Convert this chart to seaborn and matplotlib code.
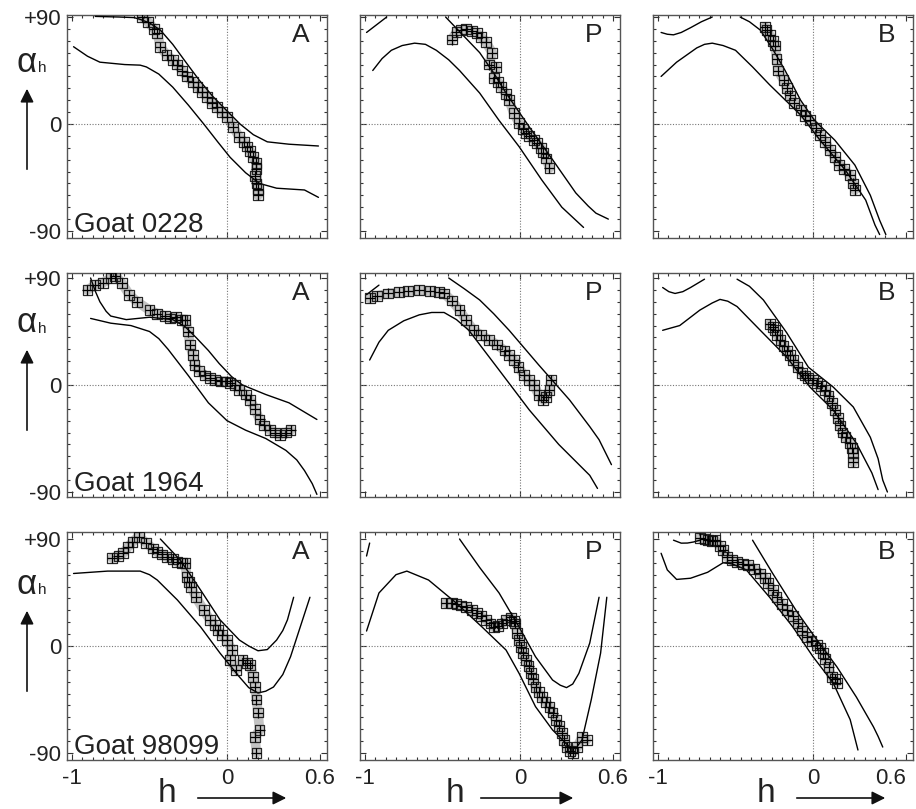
import matplotlib
matplotlib.use("Agg")
import matplotlib.pyplot as plt
from matplotlib.ticker import MultipleLocator, FixedLocator
from matplotlib.patches import FancyArrowPatch
import seaborn as sns
import pandas as pd

sns.set_style("white")
plt.rcParams['font.family'] = ['Liberation Sans', 'DejaVu Sans']

# ---------------- data (h, alpha_h in degrees) ----------------
# Goat 0228
g0228_A_up_x = [-0.85, -0.7, -0.6, -0.56, -0.5, -0.43, -0.35, -0.26, -0.18, -0.09, 0.0, 0.084, 0.17, 0.26, 0.4, 0.59]
g0228_A_up_y = [90.5, 90, 89.5, 88, 85, 79, 67, 51, 37, 23, 11, 0, -9, -15, -17, -18.5]
g0228_A_lo_x = [-0.99, -0.9, -0.82, -0.66, -0.56, -0.52, -0.44, -0.35, -0.25, -0.15, -0.06, 0.02, 0.12, 0.21, 0.32, 0.50, 0.59]
g0228_A_lo_y = [65, 57, 52, 50, 49.5, 48, 42, 31, 16, 0, -15, -28, -41, -50, -54, -55.5, -61.7]
g0228_A_dx = [-0.55, -0.51, -0.47, -0.45, -0.43, -0.39, -0.35, -0.32, -0.29, -0.26, -0.22, -0.19, -0.16,
              -0.13, -0.1, -0.065, -0.03, 0, 0.04, 0.08, 0.11, 0.13, 0.15, 0.17, 0.19, 0.18, 0.19, 0.2, 0.19, 0.2]
g0228_A_dy = [90, 86, 80, 76.5, 65, 58, 54, 50, 45, 40, 35, 31, 27, 23, 18, 14, 10, 6, -2.5, -11, -15, -19,
              -23, -28, -33, -44, -50, -55, -38, -60]

g0228_P_s1_x = [-0.99, -0.86]
g0228_P_s1_y = [77, 90]
g0228_P_up_x = [-0.48, -0.37, -0.26, -0.17, -0.09, 0.06, 0.21, 0.36, 0.44, 0.49, 0.57]
g0228_P_up_y = [90, 75, 60, 43, 26, -2.5, -30, -58, -69, -75, -80]
g0228_P_lo_x = [-0.95, -0.89, -0.83, -0.76, -0.68, -0.61, -0.54, -0.46, -0.39, -0.26, -0.135, -0.006, 0.14, 0.27, 0.41]
g0228_P_lo_y = [45, 55, 62, 66, 68, 67, 62, 54, 45, 26, 3, -19, -47, -70, -87]
g0228_P_dx = [-0.44, -0.41, -0.38, -0.35, -0.31, -0.28, -0.25, -0.22, -0.18, -0.2, -0.155, -0.17, -0.14,
              -0.12, -0.09, -0.07, -0.04, -0.006, 0.02, 0.04, 0.06, 0.09, 0.11, 0.135, 0.15, 0.17, 0.19]
g0228_P_dy = [71, 77.6, 79, 80, 78, 76.5, 73, 69, 60, 50, 48, 38.7, 35, 31, 25, 20, 9, 0.8, -4, -7.6, -10,
              -13.5, -16, -20, -24, -29, -37]

g0228_B_s1_x = [-0.98, -0.94, -0.90, -0.85, -0.79, -0.72, -0.65]
g0228_B_s1_y = [77, 75.5, 75, 77, 81, 86, 90]
g0228_B_up_x = [-0.47, -0.41, -0.34, -0.26, -0.18, -0.08, 0.01, 0.14, 0.27, 0.37, 0.43, 0.47]
g0228_B_up_y = [90, 86, 79, 63, 45, 20, 3, -13.5, -34.5, -60, -81, -93]
g0228_B_lo_x = [-0.98, -0.88, -0.75, -0.7, -0.65, -0.58, -0.50, -0.39, -0.28, -0.08, 0.045, 0.21, 0.34, 0.40, 0.43]
g0228_B_lo_y = [40, 52, 64, 67, 68, 66, 62, 48, 33, 7.6, -13.5, -39, -64, -85, -93]
g0228_B_dx = [-0.31, -0.3, -0.28, -0.26, -0.245, -0.235, -0.225, -0.19, -0.17, -0.15, -0.12, -0.08, -0.05,
              -0.02, 0.02, 0.045, 0.08, 0.11, 0.14, 0.17, 0.2, 0.24, 0.26, 0.27]
g0228_B_dy = [81.6, 79, 75, 70, 66, 55, 45, 37, 30, 24, 18, 12, 7, 3.4, -3, -9, -15, -22, -28, -34.5, -38,
              -43, -50, -55.5]

# Goat 1964
g1964_A_up_x = [-0.88, -0.85, -0.82, -0.78, -0.75, -0.65, -0.5, -0.35, -0.27, -0.2, -0.12, -0.05, 0.03, 0.1, 0.25, 0.4, 0.58]
g1964_A_up_y = [90, 79, 70, 62, 58, 55, 57, 55, 49, 40, 29, 18, 7, 0, -8, -15, -29]
g1964_A_lo_x = [-0.88, -0.75, -0.62, -0.5, -0.44, -0.38, -0.25, -0.12, 0.0, 0.12, 0.25, 0.38, 0.45, 0.5, 0.55, 0.58]
g1964_A_lo_y = [56, 52, 50, 45, 39, 30, 8, -15, -30, -38, -45, -55, -63, -72, -83, -92]
g1964_A_dx = [-0.9, -0.85, -0.8, -0.75, -0.72, -0.68, -0.63, -0.58, -0.5, -0.45, -0.4, -0.37, -0.33, -0.29,
              -0.27, -0.25, -0.24, -0.22, -0.21, -0.18, -0.14, -0.11, -0.08, -0.04, 0, 0.02, 0.05, 0.08,
              0.12, 0.15, 0.18, 0.21, 0.24, 0.28, 0.31, 0.34, 0.38, 0.41]
g1964_A_dy = [80, 84, 86, 90, 92, 86, 76, 70, 63, 60, 58, 56, 57, 55, 55, 45, 34, 25, 17, 12, 8, 6, 4, 3, 3,
              2, 0, -4, -8, -12.6, -20, -29, -34, -38, -40, -42, -40, -38]

g1964_P_s1_x = [-0.99, -0.91]
g1964_P_s1_y = [76, 84]
g1964_P_up_x = [-0.46, -0.36, -0.26, -0.17, -0.07, 0.12, 0.32, 0.45, 0.51, 0.59]
g1964_P_up_y = [90, 81, 71.5, 60, 46, 17, -12.6, -35, -46, -67]
g1964_P_lo_x = [-0.97, -0.91, -0.85, -0.75, -0.65, -0.57, -0.49, -0.41, -0.33, -0.135, 0.06, 0.25, 0.45, 0.5]
g1964_P_lo_y = [21, 36, 46, 54, 59, 61, 61, 55, 46, 12.6, -21, -50, -76, -87]
g1964_P_dx = [-0.97, -0.92, -0.85, -0.78, -0.72, -0.65, -0.58, -0.52, -0.49, -0.44, -0.39, -0.35, -0.3,
              -0.25, -0.2, -0.15, -0.1, -0.07, -0.04, -0.01, 0.026, 0.06, 0.09, 0.12, 0.15, 0.17, 0.19, 0.2]
g1964_P_dy = [73, 75, 77, 78, 79, 80, 79, 78, 77, 71, 63, 55, 46, 42, 38, 34, 29, 25, 21, 15, 8.4, 4, 0,
              -8.4, -12.6, -10, -4, 4]

g1964_B_s1_x = [-0.97, -0.93, -0.89, -0.84, -0.79, -0.70]
g1964_B_s1_y = [82, 78.5, 77, 78.5, 82, 89]
g1964_B_up_x = [-0.49, -0.41, -0.32, -0.17, -0.03, 0.13, 0.26, 0.37, 0.42, 0.45, 0.48]
g1964_B_up_y = [89, 83, 71.5, 44, 15, -1.7, -18.5, -44, -62, -80, -90]
g1964_B_lo_x = [-0.97, -0.86, -0.73, -0.65, -0.6, -0.55, -0.49, -0.34, -0.17, -0.02, 0.13, 0.28, 0.38, 0.42]
g1964_B_lo_y = [46, 50, 63, 69, 72, 70.5, 66, 46, 23.5, -1.7, -21, -49, -74, -88]
g1964_B_dx = [-0.28, -0.26, -0.245, -0.23, -0.21, -0.19, -0.17, -0.15, -0.13, -0.1, -0.07, -0.05, -0.03,
              0, 0.026, 0.05, 0.08, 0.1, 0.12, 0.14, 0.16, 0.175, 0.19, 0.21, 0.24, 0.25, 0.26, 0.26]
g1964_B_dy = [51, 49, 46, 42, 38, 33, 29, 25, 21, 15, 10, 8, 6, 4, 1.7, -1, -4, -9, -15, -21, -28, -34,
              -40, -44, -49, -53, -57, -65]

# Goat 98099
g98099_A_up_x = [-0.43, -0.3, -0.17, -0.045, 0.08, 0.14, 0.2, 0.26, 0.32, 0.36, 0.39, 0.43]
g98099_A_up_y = [90, 72, 47, 22, 5, 0, -4, -3, 5, 13, 22, 41]
g98099_A_lo_x = [-0.99, -0.77, -0.56, -0.5, -0.45, -0.32, -0.17, -0.045, 0.08, 0.14, 0.2, 0.25, 0.3, 0.36, 0.41, 0.48, 0.535]
g98099_A_lo_y = [61, 63, 63, 60, 55.5, 38.7, 16, -6, -26, -35, -39.5, -38, -34.5, -24, -9, 19, 41]
g98099_A_dx = [-0.74, -0.7, -0.67, -0.64, -0.61, -0.57, -0.52, -0.48, -0.45, -0.42, -0.39, -0.35, -0.32,
               -0.29, -0.27, -0.26, -0.245, -0.23, -0.2, -0.15, -0.11, -0.08, -0.06, -0.03, 0, 0.03, 0.02,
               0.06, 0.1, 0.13, 0.15, 0.17, 0.18, 0.19, 0.2, 0.21, 0.18, 0.19]
g98099_A_dy = [74, 76, 78, 83, 87.5, 92, 86.6, 82, 79, 77, 75, 73, 70.6, 70, 70, 58, 54, 49.6, 41, 30, 22,
               18, 13.5, 9, 5, -3.4, -12, -20, -12, -14, -16, -26, -34.5, -45, -56, -70.6, -76.5, -90]

g98099_P_s1_x = [-0.99, -0.97]
g98099_P_s1_y = [75.7, 86.6]
g98099_P_up_x = [-0.39, -0.26, -0.135, -0.006, 0.1, 0.21, 0.26, 0.3, 0.34, 0.38, 0.45, 0.51]
g98099_P_up_y = [90, 66, 44.6, 16, -9, -28.6, -33, -35, -32, -23, 2.5, 41]
g98099_P_lo_x = [-0.99, -0.91, -0.8, -0.73, -0.59, -0.41, -0.245, -0.09, -0.006, 0.1, 0.21, 0.32, 0.36, 0.4,
                 0.46, 0.52, 0.56]
g98099_P_lo_y = [12.6, 44.6, 60, 63, 55.5, 36, 16, -3.4, -23, -51, -70.6, -85, -86, -79, -45, -6, 41]
g98099_P_dx = [-0.48, -0.44, -0.41, -0.38, -0.35, -0.31, -0.28, -0.25, -0.22, -0.19, -0.17, -0.14, -0.115,
               -0.09, -0.06, -0.04, -0.03, -0.02, -0.005, 0.006, 0.02, 0.04, 0.055, 0.07, 0.085, 0.1, 0.12,
               0.14, 0.165, 0.19, 0.21, 0.23, 0.25, 0.27, 0.285, 0.3, 0.32, 0.34, 0.37, 0.4, 0.43]
g98099_P_dy = [36, 36, 35, 34, 33, 30, 27.7, 25, 22, 19, 16, 17, 19, 22, 24, 21, 19, 11, 5, -0.8, -6, -12,
               -17, -23, -28, -34.5, -39, -43, -47, -51, -56, -62, -67, -73, -79, -85, -88, -90, -85,
               -76.5, -79]

g98099_B_s1_x = [-0.9, -0.85, -0.81, -0.77, -0.73]
g98099_B_s1_y = [89, 86.5, 86.6, 87.5, 89]
g98099_B_up_x = [-0.39, -0.26, -0.1, 0.026, 0.155, 0.28, 0.39, 0.42, 0.45]
g98099_B_up_y = [89, 61, 28, 5, -17.7, -43, -68, -76, -85]
g98099_B_lo_x = [-0.98, -0.94, -0.88, -0.79, -0.68, -0.58, -0.52, -0.43, -0.28, -0.13, 0, 0.13, 0.24, 0.29]
g98099_B_lo_y = [78, 64, 56, 57, 62, 70, 69, 64, 41, 16, -9, -31, -62, -87.5]
g98099_B_dx = [-0.73, -0.7, -0.68, -0.65, -0.63, -0.6, -0.58, -0.555, -0.52, -0.49, -0.45, -0.42, -0.38,
               -0.34, -0.31, -0.29, -0.26, -0.235, -0.2, -0.17, -0.13, -0.1, -0.07, -0.04, -0.01, 0.026,
               0.045, 0.065, 0.08, 0.1, 0.12, 0.14, 0.155]
g98099_B_dy = [91, 90, 89, 88, 89, 84, 81, 75, 72, 70.6, 69, 68, 65, 61, 57, 53, 47, 41, 35, 30, 25, 19,
               13, 7.6, 4, 0.8, -2, -6, -11, -17.7, -26, -28, -31]

goat_names = ["Goat 0228", "Goat 1964", "Goat 98099"]
panel_letters = ["A", "P", "B"]
x_tick_vals = [-1, 0, 0.6]
x_tick_labels = ["-1", "0", "0.6"]
y_tick_vals = [-90, 0, 90]
y_tick_labels = ["-90", "0", "+90"]

panels = [
    [dict(curves=[(g0228_A_up_x, g0228_A_up_y), (g0228_A_lo_x, g0228_A_lo_y)], dx=g0228_A_dx, dy=g0228_A_dy),
     dict(curves=[(g0228_P_s1_x, g0228_P_s1_y), (g0228_P_up_x, g0228_P_up_y), (g0228_P_lo_x, g0228_P_lo_y)],
          dx=g0228_P_dx, dy=g0228_P_dy),
     dict(curves=[(g0228_B_s1_x, g0228_B_s1_y), (g0228_B_up_x, g0228_B_up_y), (g0228_B_lo_x, g0228_B_lo_y)],
          dx=g0228_B_dx, dy=g0228_B_dy)],
    [dict(curves=[(g1964_A_up_x, g1964_A_up_y), (g1964_A_lo_x, g1964_A_lo_y)], dx=g1964_A_dx, dy=g1964_A_dy),
     dict(curves=[(g1964_P_s1_x, g1964_P_s1_y), (g1964_P_up_x, g1964_P_up_y), (g1964_P_lo_x, g1964_P_lo_y)],
          dx=g1964_P_dx, dy=g1964_P_dy),
     dict(curves=[(g1964_B_s1_x, g1964_B_s1_y), (g1964_B_up_x, g1964_B_up_y), (g1964_B_lo_x, g1964_B_lo_y)],
          dx=g1964_B_dx, dy=g1964_B_dy)],
    [dict(curves=[(g98099_A_up_x, g98099_A_up_y), (g98099_A_lo_x, g98099_A_lo_y)], dx=g98099_A_dx, dy=g98099_A_dy),
     dict(curves=[(g98099_P_s1_x, g98099_P_s1_y), (g98099_P_up_x, g98099_P_up_y), (g98099_P_lo_x, g98099_P_lo_y)],
          dx=g98099_P_dx, dy=g98099_P_dy),
     dict(curves=[(g98099_B_s1_x, g98099_B_s1_y), (g98099_B_up_x, g98099_B_up_y), (g98099_B_lo_x, g98099_B_lo_y)],
          dx=g98099_B_dx, dy=g98099_B_dy)],
]

# ---------------- layout (pixels) ----------------
W, H = 916, 809
col_left = [67, 360, 653]
col_w = 260
row_top = [15, 273, 532]
row_h = [223, 224, 228]
row_zero = [124, 385, 646]
PX_PER_UNIT = 155.0
PX_PER_DEG = 107.0 / 90.0
ZERO_OFF = 160

fig = plt.figure(figsize=(W / 100, H / 100), dpi=100)

for r in range(3):
    for c in range(3):
        L, T, Wd, Ht = col_left[c], row_top[r], col_w, row_h[r]
        ax = fig.add_axes([L / W, 1 - (T + Ht) / H, Wd / W, Ht / H])
        ax.set_xlim(-ZERO_OFF / PX_PER_UNIT, (Wd - ZERO_OFF) / PX_PER_UNIT)
        ax.set_ylim(-(T + Ht - row_zero[r]) / PX_PER_DEG, (row_zero[r] - T) / PX_PER_DEG)
        ax.axhline(0, color='#777777', lw=0.8, ls=(0, (1, 1.5)), zorder=1)
        ax.axvline(0, color='#777777', lw=0.8, ls=(0, (1, 1.5)), zorder=1)

        p = panels[r][c]
        for (cx, cy) in p["curves"]:
            sns.lineplot(x=cx, y=cy, ax=ax, sort=False, estimator=None, color='black', lw=1.0, zorder=3)
        df = pd.DataFrame({"h": p["dx"], "a": p["dy"]})
        sns.lineplot(data=df, x="h", y="a", ax=ax, sort=False, estimator=None,
                     color='#555555', lw=7, alpha=0.35, zorder=2)
        sns.scatterplot(data=df, x="h", y="a", ax=ax, marker='s', s=50, facecolor='none',
                        edgecolor='#111111', linewidth=0.9, alpha=0.9, zorder=4)
        sns.scatterplot(data=df, x="h", y="a", ax=ax, marker='+', s=45, color='black',
                        linewidth=0.9, zorder=5)

        ax.set_xlabel("")
        ax.set_ylabel("")
        for s in ax.spines.values():
            s.set_color('#555555')
            s.set_linewidth(1.0)
            s.set_visible(True)
        ax.xaxis.set_major_locator(FixedLocator(x_tick_vals))
        ax.xaxis.set_minor_locator(MultipleLocator(1 / 15))
        ax.yaxis.set_major_locator(FixedLocator(y_tick_vals))
        ax.yaxis.set_minor_locator(MultipleLocator(10))
        ax.tick_params(which='both', direction='in', top=True, right=True, bottom=True, left=True,
                       color='#333333', width=0.8)
        ax.tick_params(which='major', length=4)
        ax.tick_params(which='minor', length=2.5)
        if c == 0:
            ax.set_yticklabels(y_tick_labels, fontsize=16, color='#222222')
            ax.tick_params(axis='y', pad=4)
        else:
            ax.set_yticklabels([])
        if r == 2:
            labs = ax.set_xticklabels(x_tick_labels, fontsize=16, color='#222222')
            ax.tick_params(axis='x', pad=6)
            if c == 2:
                labs[-1].set_horizontalalignment('right')
                labs[-1].set_x(0.6)
        else:
            ax.set_xticklabels([])

        ax.text(0.9, 1 - 20 / Ht, panel_letters[c], transform=ax.transAxes, fontsize=19,
                ha='center', va='center', color='#222222')
        if c == 0:
            ax.text(7 / Wd, 6 / Ht, goat_names[r], transform=ax.transAxes, fontsize=20,
                    ha='left', va='baseline', color='#222222')


def fpx(x, y):
    return (x / W, 1 - y / H)


# alpha_h labels with up arrows
for r in range(3):
    z = row_zero[r]
    fig.text(*fpx(27, z - 62), "α", fontsize=25, ha='center', va='center', color='#222222')
    fig.text(*fpx(42, z - 56), "h", fontsize=11, ha='center', va='center', color='#222222')
    arr = FancyArrowPatch(fpx(27, z + 48), fpx(27, z - 38), transform=fig.transFigure,
                          arrowstyle='-|>', mutation_scale=20, lw=1.2, color='#111111')
    fig.patches.append(arr)

# h labels with right arrows
h_pos = [(167, 195, 289), (455, 478, 576), (766, 794, 888)]
for (hx, a0, a1) in h_pos:
    fig.text(*fpx(hx, 793), "h", fontsize=24, ha='center', va='center', color='#222222')
    arr = FancyArrowPatch(fpx(a0, 798), fpx(a1, 798), transform=fig.transFigure,
                          arrowstyle='-|>', mutation_scale=20, lw=1.2, color='#111111')
    fig.patches.append(arr)

fig.savefig("out.png", dpi=100)
